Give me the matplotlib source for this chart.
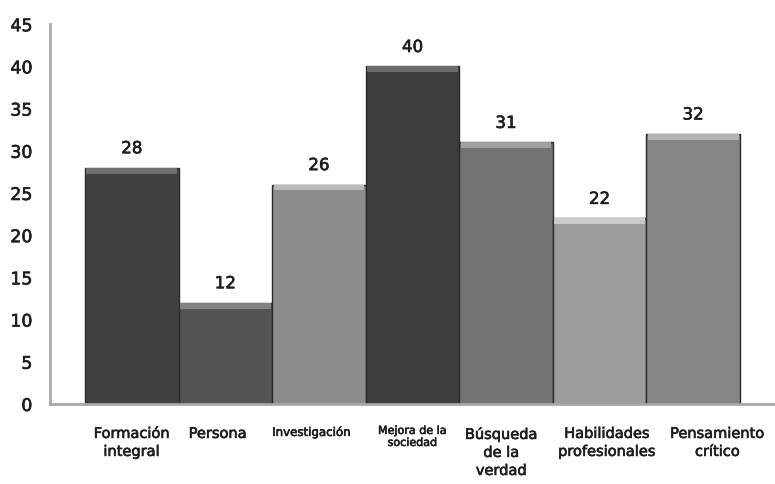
import matplotlib.pyplot as plt
import matplotlib.patheffects as pe
import numpy as np

categories = ["Formación\nintegral", "Persona", "Investigación", "Mejora de la\nsociedad",
              "Búsqueda\nde la\nverdad", "Habilidades\nprofesionales", "Pensamiento\ncrítico"]
values = [28, 12, 26, 40, 31, 22, 32]
bar_colors = ["#414141", "#545454", "#8c8c8c", "#3d3d3d", "#737373", "#9c9c9c", "#858585"]

# label styling: font size and small horizontal nudge for each category
label_sizes = [10.5, 10.5, 8.5, 8, 10.5, 10.5, 10.5]
label_shift = [0, -0.08, -0.08, 0, -0.05, 0.08, 0.26]
yticks = list(range(0, 50, 5))

plt.rcParams["font.family"] = ["DejaVu Sans"]
fat = [pe.withStroke(linewidth=0.45, foreground="#1e1e1e")]

fig = plt.figure(figsize=(7.75, 4.85), dpi=100)
ax = fig.add_axes([0.065, 0.165, 0.932, 0.783])

x = np.arange(len(values))
ax.bar(x, values, width=1.0, color=bar_colors, edgecolor="#2a2a2a", linewidth=1.0, zorder=2)

# light bevel strip along the top of each bar
for xi, v, c in zip(x, values, bar_colors):
    rgb = np.array([int(c[i:i + 2], 16) for i in (1, 3, 5)]) / 255
    light = np.clip(rgb + 0.18, 0, 1)
    ax.bar(xi, 0.7, bottom=v - 0.7, width=0.97, color=light, linewidth=0, zorder=3)
    ax.annotate(str(v), (xi, v), xytext=(0, 14), textcoords="offset points",
                ha="center", va="center", fontsize=12, color="#1e1e1e", path_effects=fat)

ax.set_xlim(-0.87, 6.85)
ax.set_ylim(0, 45)
ax.set_yticks(yticks)
ax.set_xticks(x)
ax.set_xticklabels([])
for xi, lab, fs, dx in zip(x, categories, label_sizes, label_shift):
    ax.text(xi + dx, -2.6, lab, ha="center", va="top", fontsize=fs, color="#1e1e1e",
            linespacing=1.25, path_effects=fat)

ax.tick_params(axis="both", length=0)
ax.tick_params(axis="y", labelsize=12.5, pad=13, labelcolor="#1e1e1e")
for t in ax.get_yticklabels():
    t.set_path_effects(fat)

for side in ("top", "right"):
    ax.spines[side].set_visible(False)
for side in ("left", "bottom"):
    ax.spines[side].set_color("#a8a8a8")
    ax.spines[side].set_linewidth(2)

fig.savefig("out.png", dpi=100)
